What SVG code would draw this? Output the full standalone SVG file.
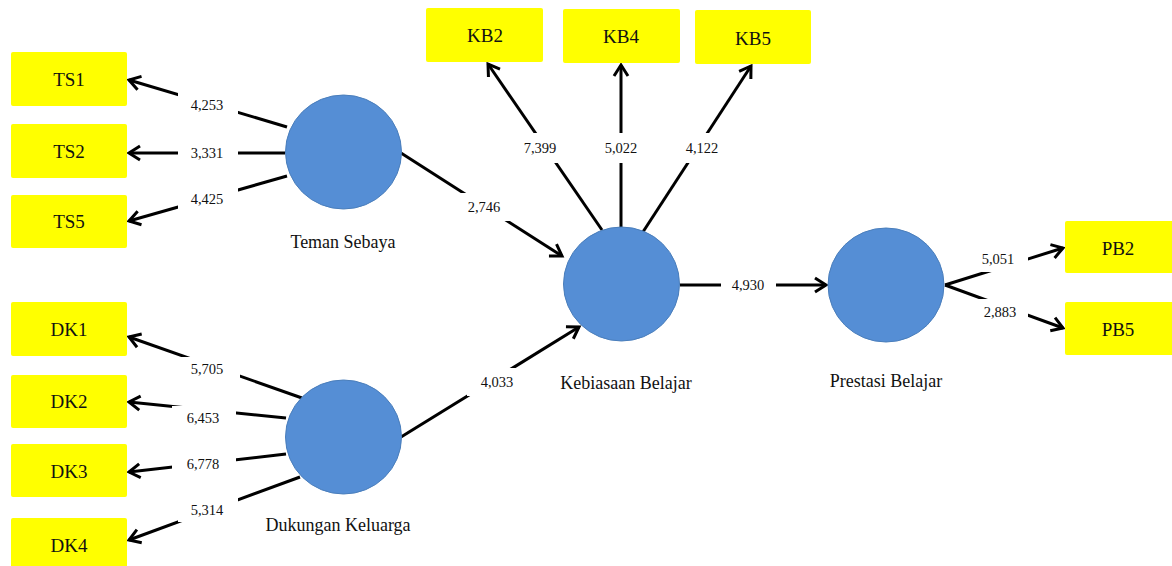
<svg xmlns="http://www.w3.org/2000/svg" width="1172" height="566" viewBox="0 0 1172 566">
<style>
.box{fill:#FFFF00;}
text{font-family:'Liberation Serif','Times New Roman','DejaVu Serif',serif;fill:#111;text-anchor:middle;}
.bt{font-size:19px;}
.lv{fill:#558ED5;stroke:#4A7EBB;stroke-width:1;}
.lt{font-size:18px;}
.ln{stroke:#000;stroke-width:3;fill:none;}
.lb{fill:#fff;}
.nt{font-size:14.5px;}
</style>
<defs>
<marker id="arr" viewBox="-13 -9 16 18" markerWidth="16" markerHeight="18" refX="0" refY="0" orient="auto" markerUnits="userSpaceOnUse">
<path d="M-11,-7 L0,0 L-11,7" fill="none" stroke="#000" stroke-width="3"/>
</marker>
</defs>
<rect width="1172" height="566" fill="#fff"/>

<g id="connectors">
<line class="ln" x1="287" y1="127" x2="129" y2="80" marker-end="url(#arr)"/>
<line class="ln" x1="285" y1="153" x2="129" y2="153" marker-end="url(#arr)"/>
<line class="ln" x1="287" y1="176" x2="129" y2="221" marker-end="url(#arr)"/>
<line class="ln" x1="302" y1="398" x2="129" y2="337" marker-end="url(#arr)"/>
<line class="ln" x1="286" y1="418" x2="129" y2="402" marker-end="url(#arr)"/>
<line class="ln" x1="286" y1="454" x2="129" y2="472" marker-end="url(#arr)"/>
<line class="ln" x1="300" y1="477" x2="129" y2="540" marker-end="url(#arr)"/>
<line class="ln" x1="401" y1="153" x2="562" y2="256" marker-end="url(#arr)"/>
<line class="ln" x1="401" y1="437" x2="579" y2="327" marker-end="url(#arr)"/>
<line class="ln" x1="602" y1="230" x2="488" y2="64" marker-end="url(#arr)"/>
<line class="ln" x1="621" y1="228" x2="621" y2="65" marker-end="url(#arr)"/>
<line class="ln" x1="639" y1="238" x2="751" y2="66" marker-end="url(#arr)"/>
<line class="ln" x1="680" y1="285" x2="826" y2="285" marker-end="url(#arr)"/>
<line class="ln" x1="945" y1="285" x2="1063" y2="248" marker-end="url(#arr)"/>
<line class="ln" x1="945" y1="285" x2="1063" y2="328" marker-end="url(#arr)"/>

<rect class="lb" x="178" y="93" width="60" height="24"/><text class="nt" x="207" y="110">4,253</text>
<rect class="lb" x="178" y="141" width="60" height="24"/><text class="nt" x="207" y="158">3,331</text>
<rect class="lb" x="178" y="187" width="60" height="24"/><text class="nt" x="207" y="204">4,425</text>
<rect class="lb" x="178" y="357" width="62" height="24"/><text class="nt" x="207" y="374">5,705</text>
<rect class="lb" x="172" y="406" width="64" height="24"/><text class="nt" x="203" y="423">6,453</text>
<rect class="lb" x="172" y="452" width="64" height="24"/><text class="nt" x="203" y="469">6,778</text>
<rect class="lb" x="178" y="498" width="60" height="24"/><text class="nt" x="207" y="515">5,314</text>
<rect class="lb" x="455" y="193" width="60" height="28"/><text class="nt" x="484" y="212">2,746</text>
<rect class="lb" x="467" y="368" width="60" height="28"/><text class="nt" x="497" y="387">4,033</text>
<rect class="lb" x="512" y="133" width="56" height="30"/><text class="nt" x="540" y="153">7,399</text>
<rect class="lb" x="593" y="133" width="56" height="30"/><text class="nt" x="621" y="153">5,022</text>
<rect class="lb" x="674" y="133" width="56" height="30"/><text class="nt" x="702" y="153">4,122</text>
<rect class="lb" x="721" y="272" width="55" height="26"/><text class="nt" x="748" y="290">4,930</text>
<rect class="lb" x="970" y="246" width="58" height="26"/><text class="nt" x="998" y="264">5,051</text>
<rect class="lb" x="972" y="299" width="56" height="26"/><text class="nt" x="1000" y="317">2,883</text>
</g>

<g id="TS1"><rect class="box" x="11" y="52" width="116" height="54" rx="2"/><text class="bt" x="69" y="86">TS1</text></g>
<g id="TS2"><rect class="box" x="11" y="124" width="116" height="54" rx="2"/><text class="bt" x="69" y="158">TS2</text></g>
<g id="TS5"><rect class="box" x="11" y="195" width="116" height="53" rx="2"/><text class="bt" x="69" y="228">TS5</text></g>
<g id="DK1"><rect class="box" x="11" y="302" width="116" height="54" rx="2"/><text class="bt" x="69" y="336">DK1</text></g>
<g id="DK2"><rect class="box" x="11" y="375" width="116" height="53" rx="2"/><text class="bt" x="69" y="408">DK2</text></g>
<g id="DK3"><rect class="box" x="11" y="444" width="116" height="53" rx="2"/><text class="bt" x="69" y="478">DK3</text></g>
<g id="DK4"><rect class="box" x="11" y="518" width="116" height="54" rx="2"/><text class="bt" x="69" y="552">DK4</text></g>
<g id="KB2"><rect class="box" x="426" y="8" width="117" height="54" rx="2"/><text class="bt" x="485" y="42">KB2</text></g>
<g id="KB4"><rect class="box" x="563" y="9" width="117" height="54" rx="2"/><text class="bt" x="621" y="43">KB4</text></g>
<g id="KB5"><rect class="box" x="695" y="10" width="116" height="54" rx="2"/><text class="bt" x="753" y="45">KB5</text></g>
<g id="PB2"><rect class="box" x="1065" y="221" width="110" height="52" rx="2"/><text class="bt" x="1118" y="255">PB2</text></g>
<g id="PB5"><rect class="box" x="1065" y="302" width="110" height="53" rx="2"/><text class="bt" x="1118" y="336">PB5</text></g>

<g id="TemanSebaya"><ellipse class="lv" cx="343.5" cy="152" rx="58" ry="57"/><text class="lt" x="343" y="248">Teman Sebaya</text></g>
<g id="DukunganKeluarga"><ellipse class="lv" cx="343.5" cy="437" rx="58" ry="57"/><text class="lt" x="338" y="531">Dukungan Keluarga</text></g>
<g id="KebiasaanBelajar"><ellipse class="lv" cx="621.5" cy="284" rx="58" ry="57"/><text class="lt" x="626" y="389">Kebiasaan Belajar</text></g>
<g id="PrestasiBelajar"><ellipse class="lv" cx="886" cy="285" rx="58" ry="57"/><text class="lt" x="886" y="387">Prestasi Belajar</text></g>
</svg>
